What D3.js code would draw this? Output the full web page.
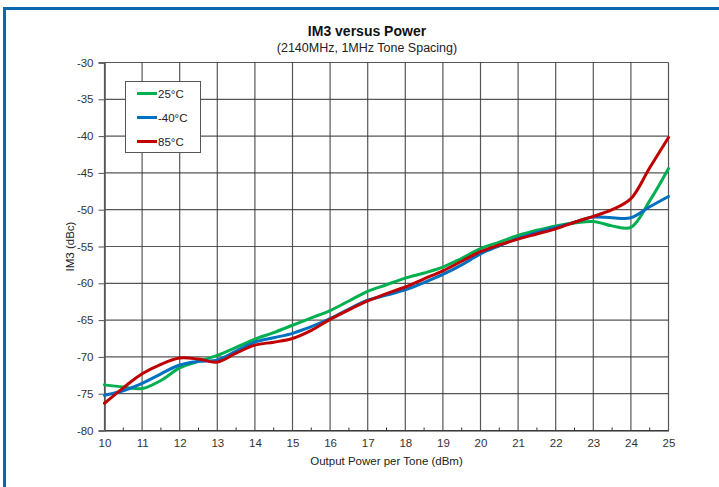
<!DOCTYPE html>
<html>
<head>
<meta charset="utf-8">
<script src="https://cdn.jsdelivr.net/npm/d3@7"></script>
<style>
  html, body { margin: 0; padding: 0; background: #fff; }
  svg { display: block; font-family: "Liberation Sans", Arial, sans-serif; }
</style>
</head>
<body>
<svg id="chart" width="719" height="487"></svg>
<script>
// ---- data ----
const xValues = [10, 10.5, 11, 11.5, 12, 12.5, 13, 13.5, 14, 14.5, 15, 15.5, 16, 16.5, 17, 17.5, 18, 18.5, 19, 19.5, 20, 20.5, 21, 21.5, 22, 22.5, 23, 23.5, 24, 24.5, 25];
const green25 = [-73.8, -74.1, -74.3, -73.2, -71.5, -70.6, -69.8, -68.7, -67.6, -66.7, -65.7, -64.7, -63.7, -62.4, -61.1, -60.2, -59.3, -58.6, -57.8, -56.6, -55.3, -54.4, -53.5, -52.8, -52.2, -51.8, -51.6, -52.2, -52.4, -48.8, -44.4];
const blueM40 = [-75.2, -74.6, -73.6, -72.3, -71.1, -70.6, -70.4, -69.2, -68.0, -67.4, -66.8, -65.9, -64.8, -63.5, -62.3, -61.6, -60.9, -59.9, -58.8, -57.5, -56.0, -54.9, -53.9, -53.1, -52.4, -51.7, -51.0, -51.1, -51.1, -49.6, -48.2];
const red85 = [-76.3, -74.2, -72.3, -71.0, -70.15, -70.3, -70.7, -69.5, -68.4, -68.0, -67.5, -66.4, -64.9, -63.6, -62.4, -61.4, -60.5, -59.4, -58.3, -57.0, -55.7, -54.8, -54.0, -53.3, -52.6, -51.7, -50.9, -50.0, -48.5, -44.3, -40.2];
const seriesNames = ["25°C", "-40°C", "85°C"];
const seriesColors = ["#00b050", "#0070c0", "#c00000"];
const xTicks = [10, 11, 12, 13, 14, 15, 16, 17, 18, 19, 20, 21, 22, 23, 24, 25];
const yTicks = [-30, -35, -40, -45, -50, -55, -60, -65, -70, -75, -80];
const titleText = "IM3 versus Power";
const subtitleText = "(2140MHz, 1MHz Tone Spacing)";
const xLabel = "Output Power per Tone (dBm)";
const yLabel = "IM3 (dBc)";

// ---- layout ----
const svg = d3.select("#chart");
const W = 719, H = 487;
const plot = { left: 104.5, right: 668.5, top: 62.5, bottom: 430.5 };

const x = d3.scaleLinear().domain([10, 25]).range([plot.left, plot.right]);
const y = d3.scaleLinear().domain([-80, -30]).range([plot.bottom, plot.top]);

// blue frame
const border = "#0a69ad";
svg.append("rect").attr("x", 3).attr("y", 7).attr("width", W - 3).attr("height", 3).attr("fill", border);
svg.append("rect").attr("x", 3).attr("y", 7).attr("width", 3).attr("height", H - 7).attr("fill", border);

// titles
svg.append("text").attr("x", 367).attr("y", 36).attr("text-anchor", "middle")
  .attr("font-size", 14).attr("font-weight", "bold").attr("fill", "#111").text(titleText);
svg.append("text").attr("x", 367).attr("y", 51.5).attr("text-anchor", "middle")
  .attr("font-size", 12.5).attr("fill", "#222").text(subtitleText);

// grid
const grid = svg.append("g");
grid.selectAll("line.v").data(xTicks).join("line")
  .attr("x1", d => x(d)).attr("x2", d => x(d))
  .attr("y1", plot.top).attr("y2", plot.bottom)
  .attr("stroke", "#3a3a3a").attr("stroke-width", 1.2).attr("stroke-opacity", 0.85);
grid.selectAll("line.h").data(yTicks).join("line")
  .attr("x1", plot.left).attr("x2", plot.right)
  .attr("y1", d => y(d)).attr("y2", d => y(d))
  .attr("stroke", "#3a3a3a").attr("stroke-width", 1.2).attr("stroke-opacity", 0.85);

// axes
const xAxis = d3.axisBottom(x).tickValues(xTicks).tickSize(0).tickPadding(8).tickFormat(d => String(d));
const gx = svg.append("g").attr("transform", `translate(0,${plot.bottom})`).call(xAxis);
gx.select(".domain").attr("stroke", "#222");
gx.selectAll("text").attr("font-size", 11.5).attr("fill", "#333").attr("font-family", "Liberation Sans, Arial, sans-serif");

// minor x ticks (inward, at half units)
const minor = d3.range(10.5, 25, 1);
svg.append("g").selectAll("line").data(minor).join("line")
  .attr("x1", d => x(d)).attr("x2", d => x(d))
  .attr("y1", plot.bottom).attr("y2", plot.bottom - 3)
  .attr("stroke", "#333").attr("stroke-width", 1);

const yAxis = d3.axisLeft(y).tickValues(yTicks).tickSize(6).tickPadding(5).tickFormat(d => String(d));
const gy = svg.append("g").attr("transform", `translate(${plot.left},0)`).call(yAxis);
gy.select(".domain").attr("stroke", "#555").attr("stroke-width", 1.5);
gy.selectAll(".tick line").attr("stroke", "#555");
gy.selectAll("text").attr("font-size", 11.5).attr("fill", "#333").attr("font-family", "Liberation Sans, Arial, sans-serif");

// axis titles
svg.append("text").attr("x", (plot.left + plot.right) / 2).attr("y", 465).attr("text-anchor", "middle")
  .attr("font-size", 11.5).attr("fill", "#222").text(xLabel);
svg.append("text").attr("transform", `translate(74,${(plot.top + plot.bottom) / 2}) rotate(-90)`)
  .attr("text-anchor", "middle").attr("font-size", 11.5).attr("fill", "#222").text(yLabel);

// lines
const allSeries = [green25, blueM40, red85];
const line = d3.line().x((d, i) => x(xValues[i])).y(d => y(d)).curve(d3.curveCatmullRom.alpha(0.5));
svg.append("g").selectAll("path").data(allSeries).join("path")
  .attr("d", d => line(d)).attr("fill", "none")
  .attr("stroke", (d, i) => seriesColors[i]).attr("stroke-width", 3)
  .attr("stroke-linejoin", "round").attr("stroke-linecap", "round");

// legend
const lg = svg.append("g");
lg.append("rect").attr("x", 125.5).attr("y", 81.5).attr("width", 75).attr("height", 71)
  .attr("fill", "#fff").attr("stroke", "#555").attr("stroke-width", 1);
seriesNames.forEach((name, i) => {
  const yy = 93.5 + i * 24;
  lg.append("line").attr("x1", 137).attr("x2", 157).attr("y1", yy).attr("y2", yy)
    .attr("stroke", seriesColors[i]).attr("stroke-width", 3);
  lg.append("text").attr("x", 158).attr("y", yy + 4).attr("font-size", 11.5).attr("fill", "#222").text(name);
});
</script>
</body>
</html>
